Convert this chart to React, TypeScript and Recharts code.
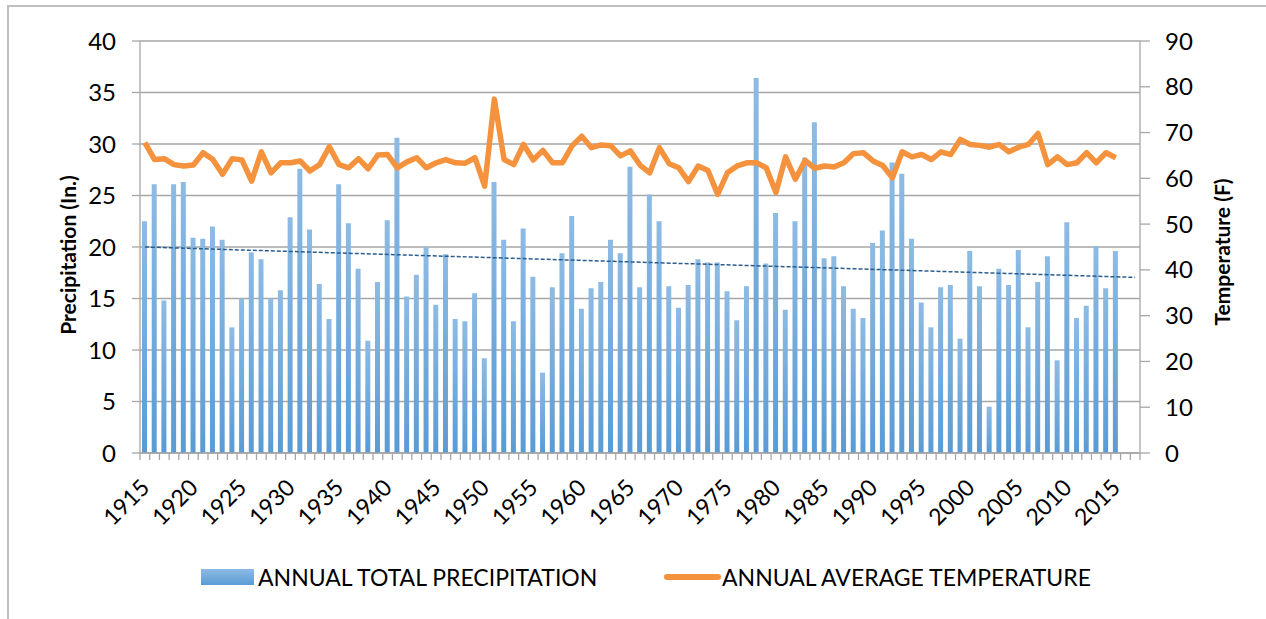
import { ComposedChart, Bar, Line, XAxis, YAxis, CartesianGrid, ReferenceLine, Label } from "recharts";

const years: number[] = Array.from({ length: 103 }, (_, i) => 1915 + i);

const precipitation: (number | null)[] = [
    22.5, 26.1, 14.8, 26.1, 26.3, 20.9, 20.8, 22.0, 20.7, 12.2,
    15.0, 19.5, 18.8, 15.0, 15.8, 22.9, 27.6, 21.7, 16.4, 13.0,
    26.1, 22.3, 17.9, 10.9, 16.6, 22.6, 30.6, 15.2, 17.3, 20.0,
    14.4, 19.3, 13.0, 12.8, 15.5, 9.2, 26.3, 20.7, 12.8, 21.8,
    17.1, 7.8, 16.1, 19.4, 23.0, 14.0, 16.0, 16.6, 20.7, 19.4,
    27.8, 16.1, 25.1, 22.5, 16.2, 14.1, 16.3, 18.8, 18.5, 18.5,
    15.7, 12.9, 16.2, 36.4, 18.4, 23.3, 13.9, 22.5, 28.7, 32.1,
    18.9, 19.1, 16.2, 14.0, 13.1, 20.4, 21.6, 28.2, 27.1, 20.8,
    14.6, 12.2, 16.1, 16.3, 11.1, 19.6, 16.2, 4.5, 17.9, 16.3,
    19.7, 12.2, 16.6, 19.1, 9.0, 22.4, 13.1, 14.3, 20.1, 16.0,
    19.6, null, null,
];

const temperature: (number | null)[] = [
    67.8, 64.1, 64.3, 63.0, 62.7, 62.9, 65.6, 64.1, 60.9, 64.3,
    64.0, 59.4, 65.8, 61.2, 63.4, 63.4, 63.8, 61.6, 63.0, 66.9,
    63.0, 62.3, 64.3, 62.1, 65.1, 65.2, 62.3, 63.6, 64.5, 62.3,
    63.4, 64.1, 63.4, 63.3, 64.5, 58.3, 77.3, 64.1, 63.0, 67.4,
    64.0, 66.1, 63.4, 63.4, 67.1, 69.2, 66.7, 67.3, 67.1, 64.9,
    66.0, 62.9, 61.2, 66.7, 63.2, 62.3, 59.3, 62.7, 61.7, 56.5,
    61.2, 62.7, 63.4, 63.4, 62.3, 56.9, 64.7, 59.8, 63.9, 62.2,
    62.7, 62.5, 63.4, 65.4, 65.6, 63.8, 62.8, 60.1, 65.8, 64.7,
    65.2, 64.1, 65.8, 65.2, 68.5, 67.4, 67.2, 66.8, 67.4, 65.8,
    66.8, 67.4, 69.8, 63.0, 64.7, 63.0, 63.4, 65.6, 63.4, 65.6,
    64.5, null, null,
];

// trend line end points
const trendStart = 20.0;
const trendEnd = 17.05;

const precipTicks = [0, 5, 10, 15, 20, 25, 30, 35, 40];
const tempTicks = [0, 10, 20, 30, 40, 50, 60, 70, 80, 90];

const data = years.map((year, i) => ({
    year: String(year),
    precip: precipitation[i],
    temp: temperature[i],
}));

const FONT = "Lato, 'Open Sans', sans-serif";
const GRID = "#A6A6A6";
const BAND = 1000 / years.length;

const XTick = (props: any) => {
    const { x, y, payload, index } = props;
    const year = Number(payload.value);
    const left = x - BAND / 2;
    const isLast = index === years.length - 1;
    return (
        <g>
            <line x1={left} y1={y} x2={left} y2={y + 7} stroke={GRID} strokeWidth={1.3} />
            {isLast && (
                <line x1={x + BAND / 2} y1={y} x2={x + BAND / 2} y2={y + 7} stroke={GRID} strokeWidth={1.3} />
            )}
            {year % 5 === 0 && year <= 2015 && (
                <text
                    x={x + 6}
                    y={y + 36}
                    transform={`rotate(-45 ${x + 6} ${y + 36})`}
                    textAnchor="end"
                    fontSize={23}
                    fontFamily={FONT}
                    fill="#000"
                >
                    {year}
                </text>
            )}
        </g>
    );
};

const axisTitle = (text: string, offsetX: number, dy: number) => (props: any) => {
    const { viewBox } = props;
    const cx = viewBox.x + offsetX;
    const cy = viewBox.y + viewBox.height / 2 + dy;
    return (
        <text
            x={cx}
            y={cy}
            transform={`rotate(-90 ${cx} ${cy})`}
            textAnchor="middle"
            dominantBaseline="central"
            fontSize={21}
            fontWeight="bold"
            fontFamily={FONT}
            fill="#000"
        >
            {text}
        </text>
    );
};

export default function App() {
    return (
        <div style={{ position: "absolute", left: 0, top: 0, width: 1266, height: 619, overflow: "hidden", background: "#fff", fontFamily: FONT }}>

            <div
                style={{
                    position: "absolute",
                    left: 7,
                    top: 5,
                    width: 1259,
                    height: 614,
                    boxSizing: "border-box",
                    borderLeft: "2px solid #BFBFBF",
                    borderTop: "2px solid #BFBFBF",
                }}
            />

            <div style={{ position: "absolute", left: 0, top: 0 }}>
                <ComposedChart
                    width={1266}
                    height={619}
                    data={data}
                    margin={{ top: 41, right: 0, left: 0, bottom: 0 }}
                >
                    <defs>
                        <linearGradient id="barGrad" x1="0" y1="0" x2="0" y2="1">
                            <stop offset="0%" stopColor="#8DBBE4" />
                            <stop offset="100%" stopColor="#5A9BD5" />
                        </linearGradient>
                    </defs>

                    <CartesianGrid yAxisId="left" vertical={false} stroke={GRID} strokeWidth={1.3} />

                    <XAxis
                        dataKey="year"
                        interval={0}
                        height={166}
                        tickSize={0}
                        tickMargin={0}
                        tickLine={false}
                        axisLine={{ stroke: GRID, strokeWidth: 1.3 }}
                        tick={<XTick />}
                    />

                    <YAxis
                        yAxisId="left"
                        domain={[0, 40]}
                        ticks={precipTicks}
                        width={140}
                        tickSize={8}
                        tickMargin={16}
                        axisLine={{ stroke: GRID, strokeWidth: 1.3 }}
                        tickLine={{ stroke: GRID, strokeWidth: 1.3 }}
                        tick={{ fontSize: 24, fill: "#000", fontFamily: FONT }}
                    >
                        <Label content={axisTitle("Precipitation (In.)", 67, 8)} />
                    </YAxis>

                    <YAxis
                        yAxisId="right"
                        orientation="right"
                        domain={[0, 90]}
                        ticks={tempTicks}
                        width={126}
                        tickSize={10}
                        tickMargin={15}
                        axisLine={{ stroke: GRID, strokeWidth: 1.3 }}
                        tickLine={{ stroke: GRID, strokeWidth: 1.3 }}
                        tick={{ fontSize: 24, fill: "#000", fontFamily: FONT }}
                    >
                        <Label content={axisTitle("Temperature (F)", 81, 5)} />
                    </YAxis>

                    <Bar
                        yAxisId="left"
                        dataKey="precip"
                        barSize={5}
                        fill="url(#barGrad)"
                        isAnimationActive={false}
                    />

                    <ReferenceLine
                        yAxisId="left"
                        segment={[
                            { x: String(years[0]), y: trendStart },
                            { x: String(years[years.length - 1]), y: trendEnd },
                        ]}
                        stroke="#2A5C8C"
                        strokeWidth={1.5}
                        strokeDasharray="4 2"
                    />

                    <Line
                        yAxisId="right"
                        dataKey="temp"
                        type="linear"
                        stroke="#F4923E"
                        strokeWidth={5.5}
                        strokeLinejoin="round"
                        dot={false}
                        activeDot={false}
                        isAnimationActive={false}
                    />
                </ComposedChart>
            </div>

            <div style={{ position: "absolute", left: 201, top: 569, width: 53, height: 16, background: "linear-gradient(#8DBBE4, #5A9BD5)" }} />
            <div style={{ position: "absolute", left: 258, top: 562, fontSize: 23, lineHeight: "30px", color: "#000", whiteSpace: "nowrap" }}>
                ANNUAL TOTAL PRECIPITATION
            </div>
            <div style={{ position: "absolute", left: 664, top: 574, width: 57, height: 6, borderRadius: 3, background: "#F4923E" }} />
            <div style={{ position: "absolute", left: 722, top: 562, fontSize: 23, lineHeight: "30px", color: "#000", whiteSpace: "nowrap" }}>
                ANNUAL AVERAGE TEMPERATURE
            </div>
        </div>
    );
}
